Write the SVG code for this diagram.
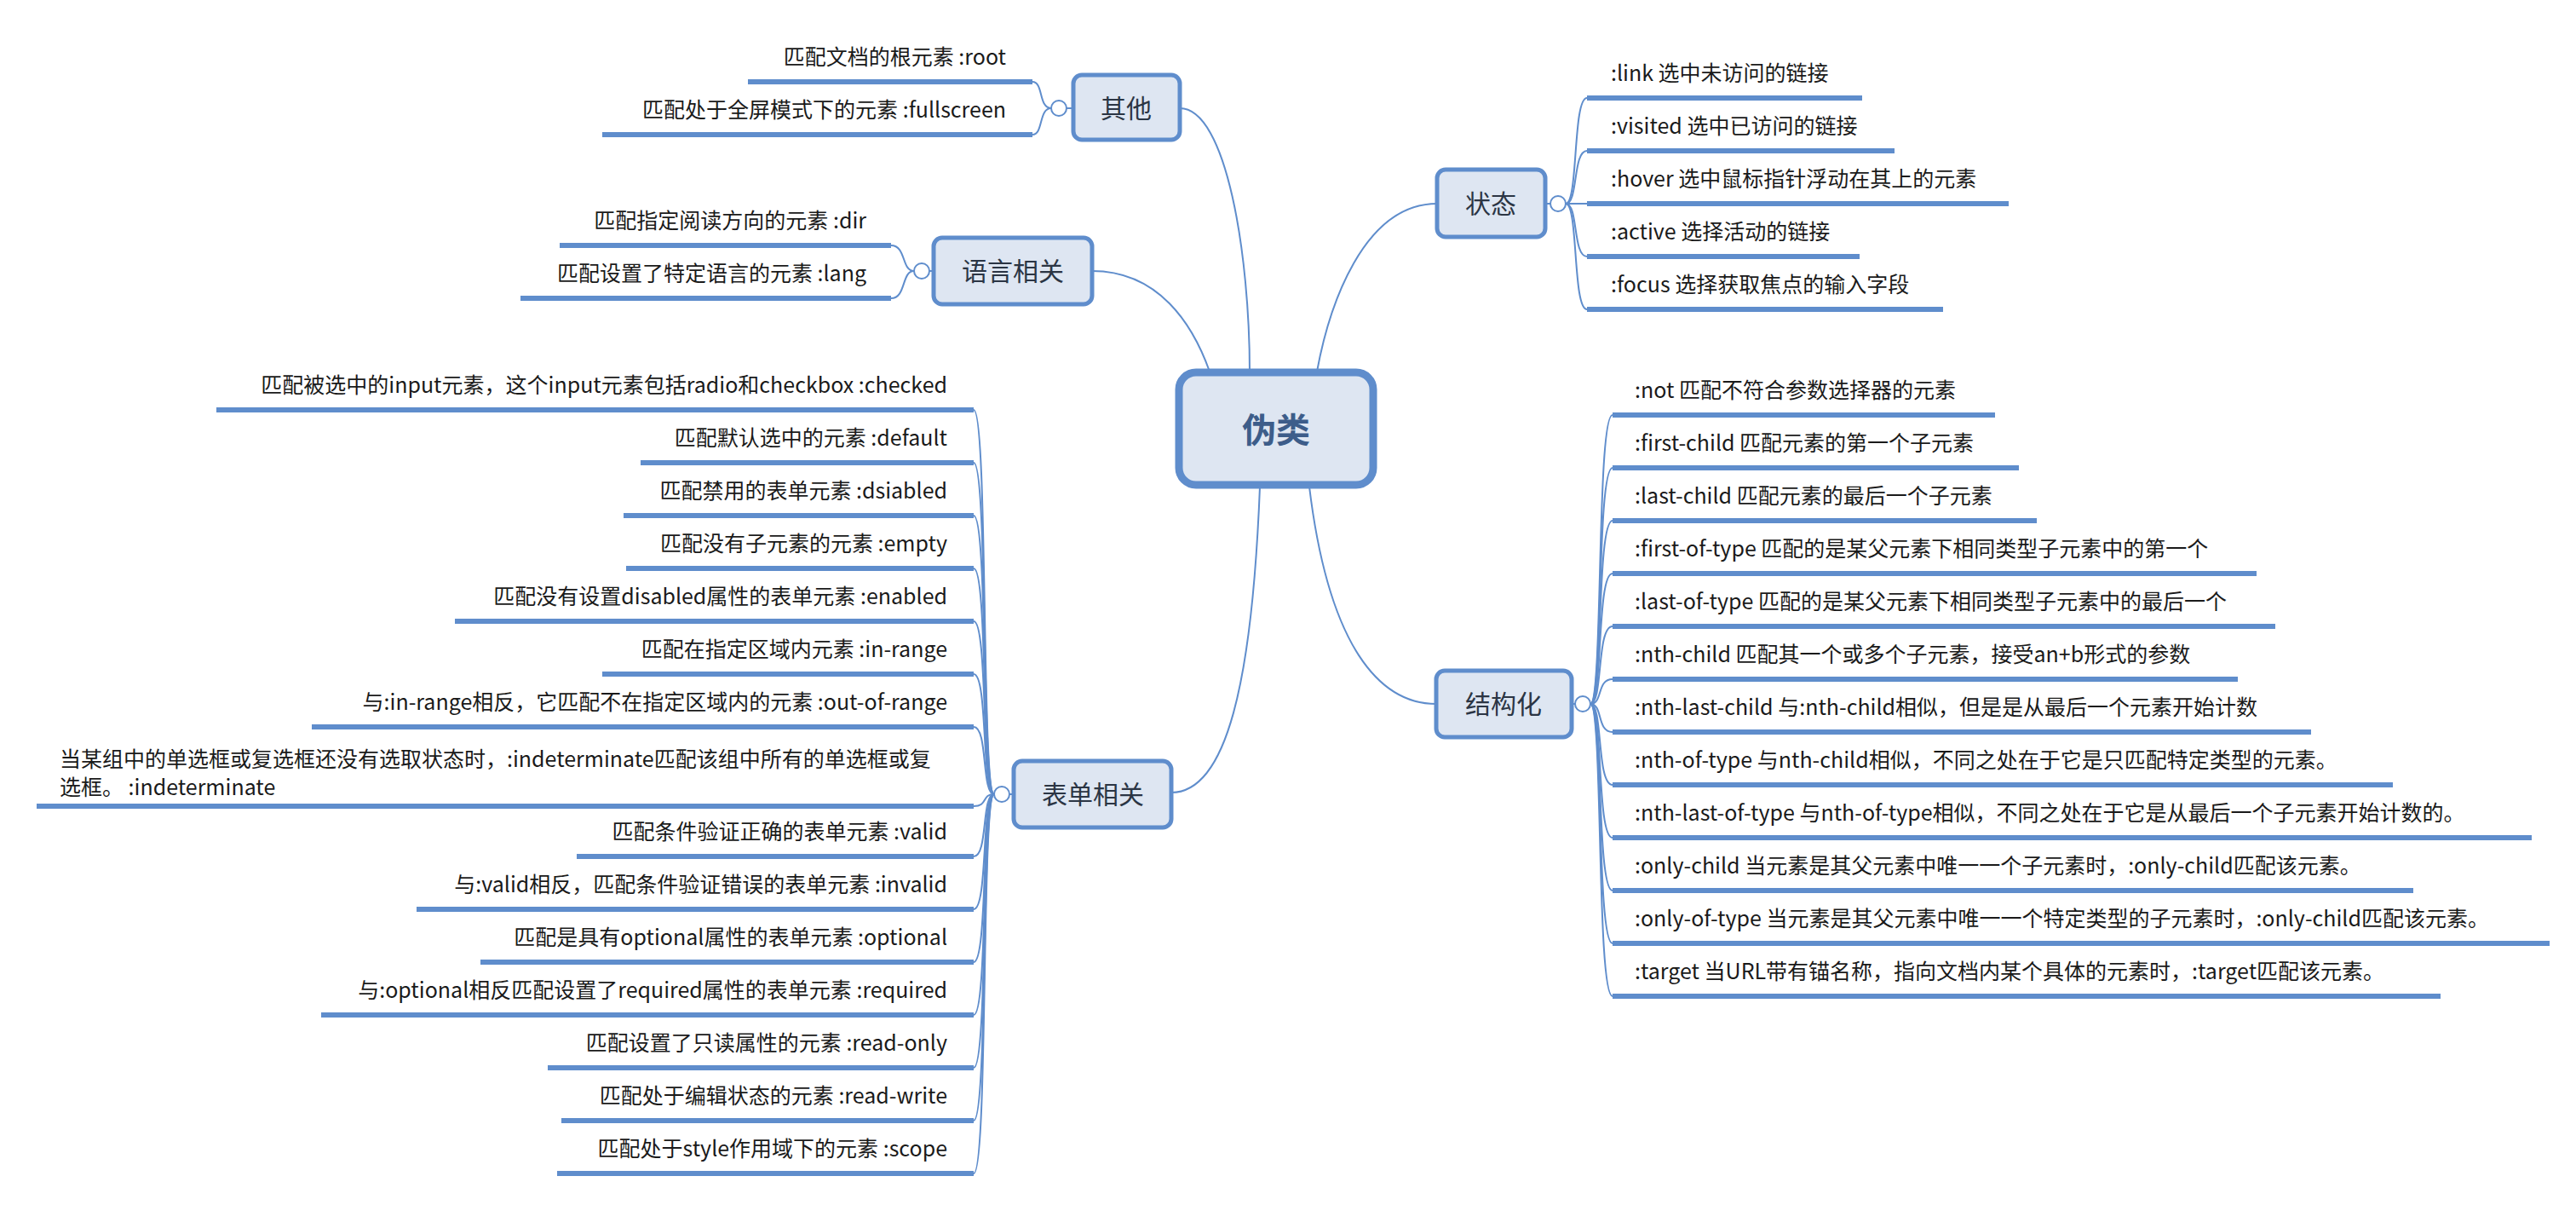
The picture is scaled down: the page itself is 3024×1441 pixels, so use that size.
<svg xmlns="http://www.w3.org/2000/svg" width="3024" height="1441" viewBox="0 0 3024 1441">
<style>
.t{font-family:"Noto Sans CJK SC","Liberation Sans",sans-serif;font-size:25px;fill:#1a1a1a}
.r{text-anchor:end}
.bt{font-family:"Noto Sans CJK SC","Liberation Sans",sans-serif;font-size:30px;fill:#2b3544;text-anchor:middle}
.box{fill:#dee6f2;stroke:#5f8dcc;stroke-width:5}
.ul{stroke:#5f8dcc;stroke-width:6;fill:none}
.c{stroke:#5f8dcc;stroke-width:2;fill:none}
.cc{fill:#fff;stroke:#5f8dcc;stroke-width:2}
</style>
<rect width="3024" height="1441" fill="#fff"/>
<g id="connectors">
<path class="c" d="M1385,127 C1440,127 1467,300 1467,436"/>
<path class="c" d="M1282,318 C1360,318 1400,380 1420,436"/>
<path class="c" d="M1687,239 C1600,239 1560,360 1546,436"/>
<path class="c" d="M1537,571 C1560,760 1620,826 1686,826"/>
<path class="c" d="M1479,571 C1470,800 1440,930 1375,930"/>
<!-- 其他 -->
<path class="c" d="M1260,127 H1252"/>
<path class="c" d="M1234,127 C1219,127 1225,96 1212,96"/><path class="c" d="M1234,127 C1219,127 1225,158 1212,158"/>
<!-- 语言 -->
<path class="c" d="M1096,318 H1091"/>
<path class="c" d="M1073,318 C1058,318 1064,288 1046,288"/><path class="c" d="M1073,318 C1058,318 1064,350 1046,350"/>
<!-- 状态 -->
<path class="c" d="M1814,239 H1820"/>
<path class="c" d="M1838,239 C1853,239 1846,115 1863,115"/><path class="c" d="M1838,239 C1853,239 1846,177 1863,177"/><path class="c" d="M1838,239 H1863"/><path class="c" d="M1838,239 C1853,239 1846,301 1863,301"/><path class="c" d="M1838,239 C1853,239 1846,363 1863,363"/>
<!-- 结构化 -->
<path class="c" d="M1845,826 H1849"/>
<path class="c" d="M1867,826 C1882,826 1874,487 1893,487"/><path class="c" d="M1867,826 C1882,826 1874,549 1893,549"/><path class="c" d="M1867,826 C1882,826 1874,611 1893,611"/><path class="c" d="M1867,826 C1882,826 1874,673 1893,673"/><path class="c" d="M1867,826 C1882,826 1874,735 1893,735"/><path class="c" d="M1867,826 C1882,826 1874,797 1893,797"/><path class="c" d="M1867,826 C1882,826 1874,859 1893,859"/><path class="c" d="M1867,826 C1882,826 1874,921 1893,921"/><path class="c" d="M1867,826 C1882,826 1874,983 1893,983"/><path class="c" d="M1867,826 C1882,826 1874,1045 1893,1045"/><path class="c" d="M1867,826 C1882,826 1874,1107 1893,1107"/><path class="c" d="M1867,826 C1882,826 1874,1169 1893,1169"/>
<!-- 表单 -->
<path class="c" d="M1190,932 H1185"/>
<path class="c" d="M1167,932 C1152,932 1160,481 1143,481"/><path class="c" d="M1167,932 C1152,932 1160,543 1143,543"/><path class="c" d="M1167,932 C1152,932 1160,605 1143,605"/><path class="c" d="M1167,932 C1152,932 1160,667 1143,667"/><path class="c" d="M1167,932 C1152,932 1160,729 1143,729"/><path class="c" d="M1167,932 C1152,932 1160,791 1143,791"/><path class="c" d="M1167,932 C1152,932 1160,853 1143,853"/><path class="c" d="M1167,932 C1152,932 1160,946 1143,946"/><path class="c" d="M1167,932 C1152,932 1160,1005 1143,1005"/><path class="c" d="M1167,932 C1152,932 1160,1067 1143,1067"/><path class="c" d="M1167,932 C1152,932 1160,1129 1143,1129"/><path class="c" d="M1167,932 C1152,932 1160,1191 1143,1191"/><path class="c" d="M1167,932 C1152,932 1160,1253 1143,1253"/><path class="c" d="M1167,932 C1152,932 1160,1315 1143,1315"/><path class="c" d="M1167,932 C1152,932 1160,1377 1143,1377"/>
</g>
<g id="center"><rect x="1384" y="437" width="228" height="132" rx="20" fill="#dee6f2" stroke="#5f8dcc" stroke-width="9"/><text x="1498" y="519" text-anchor="middle" style="font-family:'Noto Sans CJK SC',sans-serif;font-size:40px;font-weight:bold;fill:#3d5d8a">伪类</text></g>
<g id="qita"><rect class="box" x="1260" y="88" width="125" height="76" rx="10"/><text class="bt" x="1322" y="138">其他</text><circle class="cc" cx="1243" cy="127" r="9"/>
<line class="ul" x1="878" y1="96" x2="1212" y2="96"/><text class="t r" x="1181" y="76">匹配文档的根元素  :root</text>
<line class="ul" x1="707" y1="158" x2="1212" y2="158"/><text class="t r" x="1181" y="138">匹配处于全屏模式下的元素  :fullscreen</text></g>
<g id="yuyan"><rect class="box" x="1096" y="279" width="186" height="78" rx="10"/><text class="bt" x="1189" y="329">语言相关</text><circle class="cc" cx="1082" cy="318" r="9"/>
<line class="ul" x1="657" y1="288" x2="1046" y2="288"/><text class="t r" x="1017" y="268">匹配指定阅读方向的元素  :dir</text>
<line class="ul" x1="611" y1="350" x2="1046" y2="350"/><text class="t r" x="1017" y="330">匹配设置了特定语言的元素  :lang</text></g>
<g id="zhuangtai"><rect class="box" x="1687" y="199" width="127" height="79" rx="10"/><text class="bt" x="1750" y="250">状态</text><circle class="cc" cx="1829" cy="239" r="9"/>
<line class="ul" x1="1863" y1="115" x2="2186" y2="115"/><text class="t" x="1891" y="95">:link  选中未访问的链接</text>
<line class="ul" x1="1863" y1="177" x2="2224" y2="177"/><text class="t" x="1891" y="157">:visited  选中已访问的链接</text>
<line class="ul" x1="1863" y1="239" x2="2358" y2="239"/><text class="t" x="1891" y="219">:hover 选中鼠标指针浮动在其上的元素</text>
<line class="ul" x1="1863" y1="301" x2="2183" y2="301"/><text class="t" x="1891" y="281">:active 选择活动的链接</text>
<line class="ul" x1="1863" y1="363" x2="2281" y2="363"/><text class="t" x="1891" y="343">:focus 选择获取焦点的输入字段</text></g>
<g id="jiegouhua"><rect class="box" x="1686" y="787" width="159" height="78" rx="10"/><text class="bt" x="1765" y="837">结构化</text><circle class="cc" cx="1858" cy="826" r="9"/>
<line class="ul" x1="1893" y1="487" x2="2342" y2="487"/><text class="t" x="1919" y="467">:not  匹配不符合参数选择器的元素</text>
<line class="ul" x1="1893" y1="549" x2="2370" y2="549"/><text class="t" x="1919" y="529">:first-child  匹配元素的第一个子元素</text>
<line class="ul" x1="1893" y1="611" x2="2391" y2="611"/><text class="t" x="1919" y="591">:last-child  匹配元素的最后一个子元素</text>
<line class="ul" x1="1893" y1="673" x2="2649" y2="673"/><text class="t" x="1919" y="653">:first-of-type 匹配的是某父元素下相同类型子元素中的第一个</text>
<line class="ul" x1="1893" y1="735" x2="2671" y2="735"/><text class="t" x="1919" y="715">:last-of-type 匹配的是某父元素下相同类型子元素中的最后一个</text>
<line class="ul" x1="1893" y1="797" x2="2627" y2="797"/><text class="t" x="1919" y="777">:nth-child  匹配其一个或多个子元素，接受an+b形式的参数</text>
<line class="ul" x1="1893" y1="859" x2="2713" y2="859"/><text class="t" x="1919" y="839">:nth-last-child  与:nth-child相似，但是是从最后一个元素开始计数</text>
<line class="ul" x1="1893" y1="921" x2="2809" y2="921"/><text class="t" x="1919" y="901">:nth-of-type  与nth-child相似，不同之处在于它是只匹配特定类型的元素。</text>
<line class="ul" x1="1893" y1="983" x2="2972" y2="983"/><text class="t" x="1919" y="963">:nth-last-of-type  与nth-of-type相似，不同之处在于它是从最后一个子元素开始计数的。</text>
<line class="ul" x1="1893" y1="1045" x2="2833" y2="1045"/><text class="t" x="1919" y="1025">:only-child  当元素是其父元素中唯一一个子元素时，:only-child匹配该元素。</text>
<line class="ul" x1="1893" y1="1107" x2="2993" y2="1107"/><text class="t" x="1919" y="1087">:only-of-type  当元素是其父元素中唯一一个特定类型的子元素时，:only-child匹配该元素。</text>
<line class="ul" x1="1893" y1="1169" x2="2865" y2="1169"/><text class="t" x="1919" y="1149">:target  当URL带有锚名称，指向文档内某个具体的元素时，:target匹配该元素。</text></g>
<g id="biaodan"><rect class="box" x="1190" y="893" width="185" height="78" rx="10"/><text class="bt" x="1283" y="943">表单相关</text><circle class="cc" cx="1176" cy="932" r="9"/>
<line class="ul" x1="254" y1="481" x2="1143" y2="481"/><text class="t r" x="1112" y="461">匹配被选中的input元素，这个input元素包括radio和checkbox  :checked</text>
<line class="ul" x1="752" y1="543" x2="1143" y2="543"/><text class="t r" x="1112" y="523">匹配默认选中的元素  :default</text>
<line class="ul" x1="732" y1="605" x2="1143" y2="605"/><text class="t r" x="1112" y="585">匹配禁用的表单元素  :dsiabled</text>
<line class="ul" x1="735" y1="667" x2="1143" y2="667"/><text class="t r" x="1112" y="647">匹配没有子元素的元素  :empty</text>
<line class="ul" x1="534" y1="729" x2="1143" y2="729"/><text class="t r" x="1112" y="709">匹配没有设置disabled属性的表单元素  :enabled</text>
<line class="ul" x1="707" y1="791" x2="1143" y2="791"/><text class="t r" x="1112" y="771">匹配在指定区域内元素  :in-range</text>
<line class="ul" x1="366" y1="853" x2="1143" y2="853"/><text class="t r" x="1112" y="833">与:in-range相反，它匹配不在指定区域内的元素  :out-of-range</text>
<line class="ul" x1="43" y1="946" x2="1143" y2="946"/><text class="t" x="70" y="900">当某组中的单选框或复选框还没有选取状态时，:indeterminate匹配该组中所有的单选框或复</text><text class="t" x="70" y="933">选框。  :indeterminate</text>
<line class="ul" x1="677" y1="1005" x2="1143" y2="1005"/><text class="t r" x="1112" y="985">匹配条件验证正确的表单元素  :valid</text>
<line class="ul" x1="489" y1="1067" x2="1143" y2="1067"/><text class="t r" x="1112" y="1047">与:valid相反，匹配条件验证错误的表单元素  :invalid</text>
<line class="ul" x1="564" y1="1129" x2="1143" y2="1129"/><text class="t r" x="1112" y="1109">匹配是具有optional属性的表单元素  :optional</text>
<line class="ul" x1="377" y1="1191" x2="1143" y2="1191"/><text class="t r" x="1112" y="1171">与:optional相反匹配设置了required属性的表单元素  :required</text>
<line class="ul" x1="643" y1="1253" x2="1143" y2="1253"/><text class="t r" x="1112" y="1233">匹配设置了只读属性的元素  :read-only</text>
<line class="ul" x1="659" y1="1315" x2="1143" y2="1315"/><text class="t r" x="1112" y="1295">匹配处于编辑状态的元素  :read-write</text>
<line class="ul" x1="654" y1="1377" x2="1143" y2="1377"/><text class="t r" x="1112" y="1357">匹配处于style作用域下的元素  :scope</text></g>
</svg>
